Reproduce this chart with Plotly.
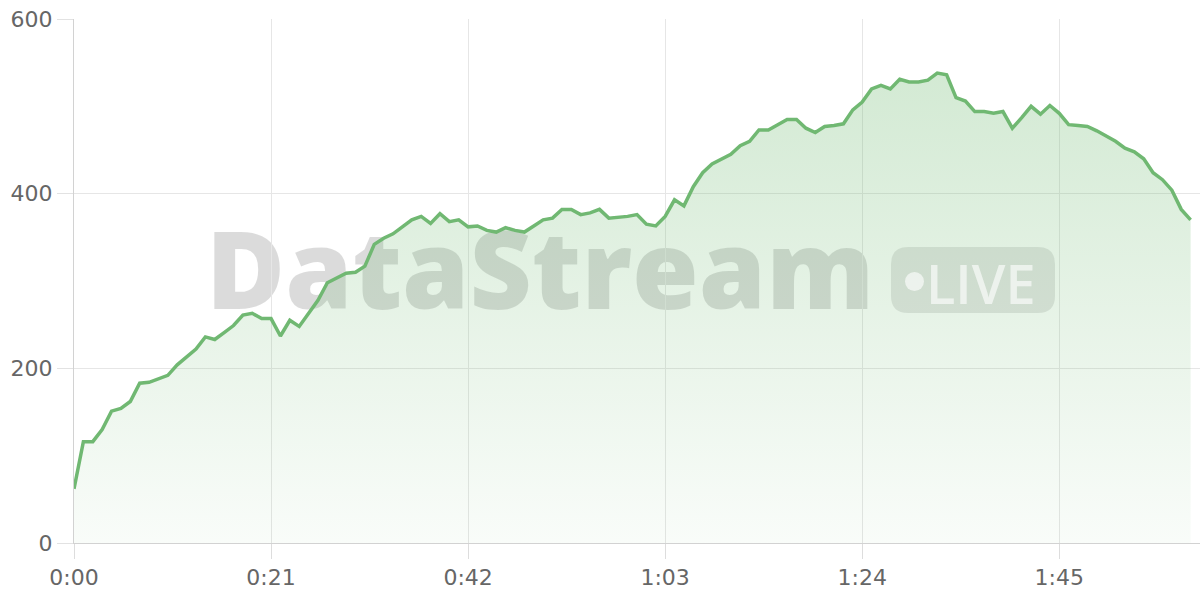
import plotly.graph_objects as go

# ---- data ----
elapsed_s = list(range(120))  # one sample per second
throughput = [
    62, 116, 116, 130, 151, 154, 162, 183, 184, 188,
    192, 204, 213, 222, 236, 233, 241, 249, 261, 263,
    257, 257, 237, 255, 248, 263, 278, 298, 304, 309,
    310, 317, 342, 349, 354, 362, 370, 374, 366, 377,
    368, 370, 362, 363, 358, 356, 361, 358, 356, 363,
    370, 372, 382, 382, 376, 378, 382, 372, 373, 374,
    376, 365, 363, 374, 393, 386, 408, 424, 434, 440,
    445, 455, 460, 473, 473, 479, 485, 485, 475, 470,
    477, 478, 480, 496, 505, 520, 524, 520, 531, 528,
    528, 530, 538, 536, 510, 506, 494, 494, 492, 494,
    475, 487, 500, 491, 501, 492, 479, 478, 477, 472,
    466, 460, 452, 448, 440, 424, 416, 404, 382, 370,
]
x_tick_vals = [0, 21, 42, 63, 84, 105]
x_tick_text = ["0:00", "0:21", "0:42", "1:03", "1:24", "1:45"]
y_tick_vals = [0, 200, 400, 600]
watermark_text = "DataStream"
badge_text = "LIVE"

# ---- layout geometry (pixels of the 1200x600 canvas) ----
W, H = 1200, 600
ML, MR, MT, MB = 74, 0, 19, 57
PW, PH = W - ML - MR, H - MT - MB


def px(x):
    return (x - ML) / PW


def py(y):
    return (H - MB - y) / PH


LINE = "rgb(112,184,114)"
GRID = "#e6e6e6"
AXIS = "#d2d2d2"
TICKFONT = dict(family="DejaVu Sans", size=22, color="#666666")

fig = go.Figure()
fig.add_trace(go.Scatter(
    x=elapsed_s, y=throughput, mode="lines",
    line=dict(color=LINE, width=3.5),
    fill="tozeroy",
    fillgradient=dict(type="vertical",
                      colorscale=[[0, "rgba(108,184,110,0.04)"],
                                  [1, "rgba(108,184,110,0.30)"]]),
    hoverinfo="skip", showlegend=False,
))

shapes = []
# watermark word (below traces)
shapes.append(dict(
    type="rect", xref="paper", yref="paper",
    x0=px(200), x1=px(880), y0=py(326), y1=py(222),
    line=dict(width=0), fillcolor="rgba(0,0,0,0)", layer="between",
    label=dict(text=watermark_text,
               textposition="middle center",
               font=dict(family="Open Sans", size=108, weight=800,
                         color="rgba(0,0,0,0.14)")),
))
# LIVE pill (rounded rectangle)
x0, x1, y0, y1 = 891, 1055, 247, 313
r = 17
rx, ry = r / PW, r / PH
X0, X1, Y0, Y1 = px(x0), px(x1), py(y1), py(y0)
path = (f"M {X0+rx},{Y0} L {X1-rx},{Y0} Q {X1},{Y0} {X1},{Y0+ry} "
        f"L {X1},{Y1-ry} Q {X1},{Y1} {X1-rx},{Y1} L {X0+rx},{Y1} "
        f"Q {X0},{Y1} {X0},{Y1-ry} L {X0},{Y0+ry} Q {X0},{Y0} {X0+rx},{Y0} Z")
shapes.append(dict(type="path", xref="paper", yref="paper", path=path,
                   line=dict(width=0), fillcolor="rgba(0,0,0,0.10)", layer="between"))
# dot
shapes.append(dict(type="circle", xref="paper", yref="paper",
                   x0=px(905), x1=px(924), y0=py(291), y1=py(272),
                   line=dict(width=0), fillcolor="rgba(255,255,255,0.62)", layer="above"))

fig.update_layout(
    width=W, height=H,
    margin=dict(l=ML, r=MR, t=MT, b=MB),
    paper_bgcolor="white", plot_bgcolor="white",
    showlegend=False, hovermode=False,
    shapes=shapes,
    annotations=[dict(
        text=badge_text, xref="paper", yref="paper",
        x=px(981), y=py(283), xanchor="center", yanchor="middle",
        showarrow=False,
        font=dict(family="Open Sans", size=54, weight=600,
                  color="rgba(255,255,255,0.62)"),
    )],
    xaxis=dict(
        range=[0, 120], tickmode="array", tickvals=x_tick_vals, ticktext=x_tick_text,
        showgrid=True, gridcolor=GRID, gridwidth=1, zeroline=False,
        showline=True, linecolor=AXIS, linewidth=1,
        ticks="outside", ticklen=15, tickcolor="#dddddd", tickwidth=1,
        tickfont=TICKFONT, fixedrange=True,
    ),
    yaxis=dict(
        range=[0, 600], tickmode="array", tickvals=y_tick_vals,
        showgrid=True, gridcolor=GRID, gridwidth=1, zeroline=False,
        showline=True, linecolor=AXIS, linewidth=1,
        ticks="outside", ticklen=16, tickcolor="#e2e2e2", tickwidth=1,
        tickfont=TICKFONT, fixedrange=True,
    ),
)

fig.write_html("out.html", config={"displayModeBar": False},
               post_script="document.body.style.margin='0';document.body.style.overflow='hidden';")
